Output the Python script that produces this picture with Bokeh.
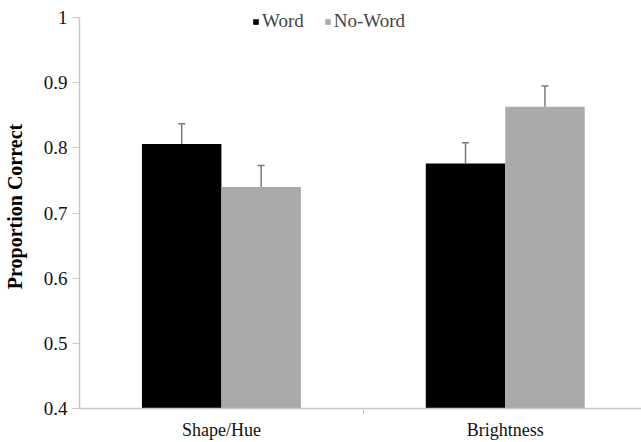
from bokeh.plotting import figure
from bokeh.models import (ColumnDataSource, Range1d, FixedTicker, Whisker, TeeHead,
                          Legend, LegendItem)
from bokeh.embed import file_html
from bokeh.resources import INLINE

# ---- data ----
categories = ["Shape/Hue", "Brightness"]
word = [0.806, 0.776]
no_word = [0.740, 0.863]
word_err = [0.031, 0.032]
no_word_err = [0.033, 0.032]
series_names = ["Word", "No-Word"]
y_ticks = [0.4, 0.5, 0.6, 0.7, 0.8, 0.9, 1.0]
y_tick_labels = ["0.4", "0.5", "0.6", "0.7", "0.8", "0.9", "1"]

BLACK = "#000000"
GREY = "#aaaaaa"
FONT = "Liberation Serif"

cat_pos = [i + 0.5 for i in range(len(categories))]
bw = 0.28

p = figure(width=641, height=442, output_backend="svg", toolbar_location=None,
           x_range=Range1d(0, 1.98), y_range=Range1d(0.4, 1.02),
           min_border_left=75, min_border_right=0, min_border_top=4,
           min_border_bottom=34)
p.outline_line_color = None
p.xgrid.visible = False
p.ygrid.visible = False
p.background_fill_color = "white"

src_w = ColumnDataSource(dict(x=[c - bw / 2 for c in cat_pos], top=word,
                              up=[v + e for v, e in zip(word, word_err)]))
src_n = ColumnDataSource(dict(x=[c + bw / 2 for c in cat_pos], top=no_word,
                              up=[v + e for v, e in zip(no_word, no_word_err)]))

r_w = p.vbar(x="x", top="top", bottom=0.4, width=bw, source=src_w,
             fill_color=BLACK, line_color=None)
r_n = p.vbar(x="x", top="top", bottom=0.4, width=bw, source=src_n,
             fill_color=GREY, line_color=None)

for src in (src_w, src_n):
    wk = Whisker(base="x", upper="up", lower="top", source=src, dimension="height",
                 line_color="#7a7a7a", line_width=1.5, lower_head=None,
                 upper_head=TeeHead(size=7, line_color="#7a7a7a", line_width=1.5))
    p.add_layout(wk)

# axes
AX = "#c8c8c8"
p.xaxis.ticker = FixedTicker(ticks=cat_pos, minor_ticks=[1.0])
p.xaxis.major_label_overrides = {c: n for c, n in zip(cat_pos, categories)}
p.xaxis.major_tick_line_color = None
p.xaxis.minor_tick_in = 0
p.xaxis.minor_tick_out = 6
p.xaxis.minor_tick_line_color = AX
p.xaxis.axis_line_color = AX
p.xaxis.axis_line_width = 1.5
p.xaxis.major_label_text_font = FONT
p.xaxis.major_label_text_font_size = "18px"
p.xaxis.major_label_text_color = "#111111"
p.xaxis.major_label_standoff = 5

p.yaxis.ticker = FixedTicker(ticks=y_ticks)
p.yaxis.bounds = (y_ticks[0], y_ticks[-1])
p.yaxis.major_label_overrides = {t: l for t, l in zip(y_ticks, y_tick_labels)}
p.yaxis.minor_tick_line_color = None
p.yaxis.major_tick_in = 0
p.yaxis.major_tick_out = 7
p.yaxis.major_tick_line_color = AX
p.yaxis.axis_line_color = AX
p.yaxis.axis_line_width = 1.5
p.yaxis.major_label_text_font = FONT
p.yaxis.major_label_text_font_size = "19px"
p.yaxis.major_label_text_color = "#111111"
p.yaxis.major_label_standoff = 5
p.yaxis.axis_label = "Proportion Correct"
p.yaxis.axis_label_text_font = FONT
p.yaxis.axis_label_text_font_size = "20px"
p.yaxis.axis_label_text_font_style = "bold"
p.yaxis.axis_label_standoff = 15
p.yaxis.axis_label_text_color = "#000000"

legend = Legend(items=[LegendItem(label=series_names[0], renderers=[r_w]),
                       LegendItem(label=series_names[1], renderers=[r_n])],
                orientation="horizontal", location=(173, 376),
                border_line_color=None, background_fill_alpha=0,
                glyph_width=7, glyph_height=7, label_standoff=3, spacing=20,
                padding=0, margin=0,
                label_text_font=FONT, label_text_font_size="19px")
p.add_layout(legend)

open("out.html", "w").write(file_html(p, INLINE))
